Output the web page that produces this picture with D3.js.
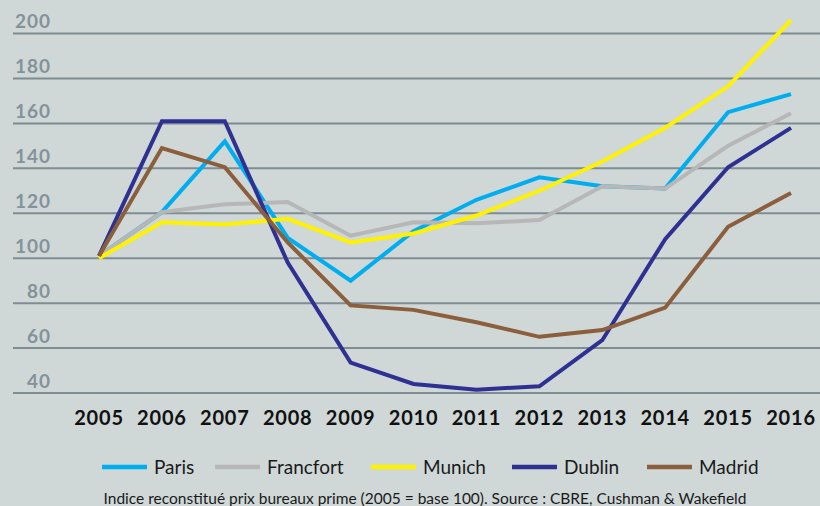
<!DOCTYPE html>
<html>
<head>
<meta charset="utf-8">
<script src="https://cdn.jsdelivr.net/npm/d3@7"></script>
<style>
  body { margin: 0; background: #cfd7d7; }
  svg { display: block; font-family: Lato, "Open Sans", sans-serif; }
</style>
</head>
<body>
<svg id="chart" width="820" height="506"></svg>
<script>
// Data
const years = [2005, 2006, 2007, 2008, 2009, 2010, 2011, 2012, 2013, 2014, 2015, 2016];
const yTicks = [40, 60, 80, 100, 120, 140, 160, 180, 200];
const cities = ['Paris', 'Francfort', 'Munich', 'Dublin', 'Madrid'];
const colours = ['#00aeef', '#b7b7b7', '#fff200', '#2e3192', '#8b5e3c'];
const paris     = [101, 120.5, 152, 109, 90, 112, 126, 136, 132, 131, 165, 173];
const francfort = [101, 120.5, 124, 125, 110, 116, 115.5, 117, 132, 131, 150, 164.5];
const munich    = [100, 116, 115, 117.5, 107, 111, 119, 130, 143, 158, 176.5, 206];
const dublin    = [101, 161, 161, 98, 53.5, 44, 41.5, 43, 63.5, 108.5, 140.5, 158];
const madrid    = [101, 149, 140.5, 107, 79, 77, 71.5, 65, 68, 78, 114, 129];
const seriesValues = [paris, francfort, munich, dublin, madrid];
const caption = 'Indice reconstitué prix bureaux prime (2005 = base 100). Source : CBRE, Cushman & Wakefield';

const svg = d3.select('#chart');

// Scales
const xScale = d3.scaleLinear()
    .domain([2005, 2016])
    .range([99, 791]);

const yScale = d3.scaleLinear()
    .domain([40, 200])
    .range([393, 33.5]);

// Gridlines + y labels
const grid = svg.append('g').attr('class', 'grid');
grid.selectAll('line').data(yTicks).join('line')
    .attr('x1', 13)
    .attr('x2', 820)
    .attr('y1', d => yScale(d))
    .attr('y2', d => yScale(d))
    .attr('stroke', '#7f8c92')
    .attr('stroke-width', 2);

grid.selectAll('text').data(yTicks).join('text')
    .attr('x', 51)
    .attr('y', d => yScale(d) - 5.5)
    .attr('text-anchor', 'end')
    .attr('fill', '#84929a')
    .attr('font-weight', 700)
    .attr('font-size', 19)
    .attr('letter-spacing', 1)
    .text(d => d);

// X axis labels
svg.append('g').selectAll('text').data(years).join('text')
    .attr('x', d => xScale(d))
    .attr('y', 425)
    .attr('text-anchor', 'middle')
    .attr('fill', '#111')
    .attr('font-weight', 700)
    .attr('font-size', 20)
    .attr('letter-spacing', 0.8)
    .text(d => d);

// Lines
const lineGen = d3.line()
    .x((d, i) => xScale(years[i]))
    .y(d => yScale(d));

svg.append('g').selectAll('path').data(seriesValues).join('path')
    .attr('fill', 'none')
    .attr('stroke', (d, i) => colours[i])
    .attr('stroke-width', 4)
    .attr('stroke-linejoin', 'miter')
    .attr('d', lineGen);

// Legend
const legendX = [102, 215, 371, 512, 647];
const legend = svg.append('g').selectAll('g').data(cities).join('g')
    .attr('transform', (d, i) => `translate(${legendX[i]},467)`);
legend.append('line')
    .attr('x1', 0).attr('x2', 45)
    .attr('stroke', (d, i) => colours[i])
    .attr('stroke-width', 4.5);
legend.append('text')
    .attr('x', 52)
    .attr('y', 6.5)
    .attr('font-size', 19)
    .attr('fill', '#1a1a1a')
    .text(d => d);

// Caption
svg.append('text')
    .attr('x', 425)
    .attr('y', 504)
    .attr('text-anchor', 'middle')
    .attr('font-size', 15.5)
    .attr('fill', '#1a1a1a')
    .text(caption);
</script>
</body>
</html>
